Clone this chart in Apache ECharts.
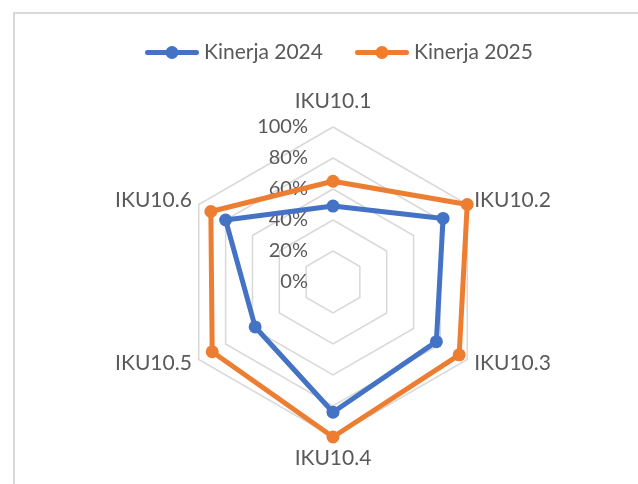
<!DOCTYPE html>
<html><head><meta charset="utf-8">
<script src="https://cdn.jsdelivr.net/npm/echarts@6/dist/echarts.min.js"></script>
<style>html,body{margin:0;padding:0;background:#fff}#c{width:638px;height:484px}</style>
</head><body><div id="c"></div>
<script>
const indicators = ['IKU10.1','IKU10.2','IKU10.3','IKU10.4','IKU10.5','IKU10.6'];
const seriesNames = ['Kinerja 2024','Kinerja 2025'];
const kinerja2024 = [49, 82, 77, 84, 58, 80];
const kinerja2025 = [65, 100, 94, 100, 90, 91];
const axisMax = 100;
const colors = ['#4472C4','#ED7D31'];

// ECharts lays indicators out counter-clockwise; reorder so they run clockwise like the original
const order = [0,5,4,3,2,1];
const ind = order.map(i => indicators[i]);
const v2024 = order.map(i => kinerja2024[i]);
const v2025 = order.map(i => kinerja2025[i]);

const chart = echarts.init(document.getElementById('c'), null, {renderer:'canvas'});
const font = 'Lato, "Liberation Sans", sans-serif';
const legendIcon = 'path://M2.5,4.5 L51.5,4.5 A2.5,2.5 0 0,1 51.5,9.5 L2.5,9.5 A2.5,2.5 0 0,1 2.5,4.5 Z M27,0.5 A6.5,6.5 0 1,1 27,13.5 A6.5,6.5 0 1,1 27,0.5 Z';
chart.setOption({
  animation:false,
  backgroundColor:'#fff',
  color: colors,
  graphic:[{type:'rect', shape:{x:14,y:13,width:800,height:600}, style:{fill:'none', stroke:'#d9d9d9', lineWidth:2}, silent:true}],
  legend:{
    top:37, left:140,
    itemWidth:54, itemHeight:14, itemGap:32,
    icon: legendIcon,
    textStyle:{color:'#595959', fontSize:21, fontFamily:font},
    data: seriesNames
  },
  radar:{
    center:[333,282], radius:155, startAngle:90, shape:'polygon',
    splitNumber:5,
    nameGap:8,
    axisName:{color:'#595959', fontSize:21, fontFamily:font,
      formatter: n => n === indicators[0] ? '{t|' + n + '}' : (n === indicators[3] ? '{b|' + n + '}' : n),
      rich:{t:{fontSize:21, fontFamily:font, color:'#595959', padding:[0,0,7,0]},
            b:{fontSize:21, fontFamily:font, color:'#595959', padding:[3,0,0,0]}}},
    splitLine:{lineStyle:{color:'#d9d9d9', width:1.5}},
    splitArea:{show:false},
    axisLine:{show:false},
    axisTick:{show:false},
    axisLabel:{show:false},
    indicator: ind.map((n,i)=> i===0
      ? {name:n, min:0, max:axisMax, axisLabel:{show:true, color:'#595959', fontSize:20, fontFamily:font, formatter: v => v + '%', margin:25}}
      : {name:n, min:0, max:axisMax})
  },
  series:[{
    type:'radar',
    data:[
      {name:seriesNames[0], value:v2024, symbol:'circle', symbolSize:13, lineStyle:{width:5, color:colors[0]}, itemStyle:{color:colors[0]}},
      {name:seriesNames[1], value:v2025, symbol:'circle', symbolSize:13, lineStyle:{width:5, color:colors[1]}, itemStyle:{color:colors[1]}}
    ]
  }]
});
</script></body></html>
